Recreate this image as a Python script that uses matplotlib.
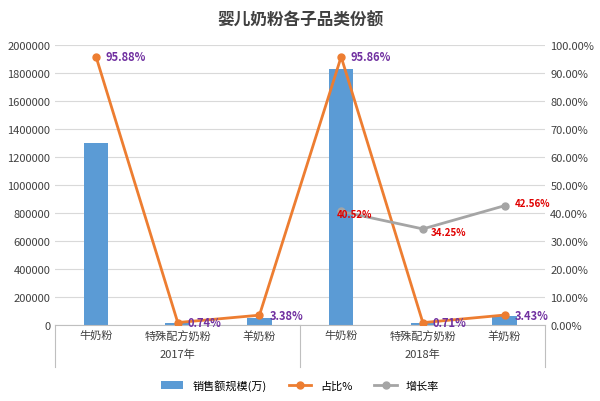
import matplotlib.pyplot as plt
import numpy as np

plt.rcParams['font.family'] = 'Noto Sans CJK SC'

years = ['2017年', '2018年']
products = ['牛奶粉', '特殊配方奶粉', '羊奶粉']
sales = [1300000, 10000, 50000, 1830000, 12000, 65000]
share = [95.88, 0.74, 3.38, 95.86, 0.71, 3.43]
growth = [40.52, 34.25, 42.56]

blue = '#5b9bd5'
orange = '#ed7d31'
grey = '#a5a5a5'

fig = plt.figure(figsize=(6, 4.02), dpi=100)
ax = fig.add_axes([0.092, 0.19, 0.817, 0.695])
x = np.arange(6)
ax.bar(x, sales, width=0.3, color=blue, label='销售额规模(万)', zorder=2)
ax.set_ylim(0, 2000000)
yt = np.arange(0, 2000001, 200000)
ax.set_yticks(yt)
ax.set_yticklabels([str(v) for v in yt])
ax.set_xlim(-0.5, 5.5)
ax.grid(axis='y', color='#d9d9d9', lw=0.8, zorder=0)
ax.tick_params(labelsize=8, length=0, colors='#404040')
ax.set_xticks(x)
ax.set_xticklabels(products * 2, fontsize=8)
for s in ['top', 'left', 'right']:
    ax.spines[s].set_visible(False)
ax.spines['bottom'].set_color('#bfbfbf')

ax2 = ax.twinx()
ax2.plot(x, share, color=orange, lw=2, marker='o', ms=5, label='占比%')
ax2.plot(x[3:], growth, color=grey, lw=2, marker='o', ms=5, label='增长率')
ax2.set_ylim(0, 100)
ax2.set_yticks(np.arange(0, 101, 10))
ax2.set_yticklabels(['%.2f%%' % v for v in np.arange(0, 101, 10)])
ax2.tick_params(labelsize=8, length=0, colors='#404040')
for s in ax2.spines.values():
    s.set_visible(False)

for xi, v in zip(x, share):
    ax2.text(xi + 0.12, v, '%.2f%%' % v, color='#7030a0', fontsize=8,
             fontweight='bold', va='center')
for xi, v, dx, dy in zip(x[3:], growth, [-0.05, 0.1, 0.12], [-1, -1, 1]):
    ax2.text(xi + dx, v + dy, '%.2f%%' % v, color='#e00000', fontsize=7,
             fontweight='bold', va='center')

# year labels and group separators
for i, y in enumerate(years):
    ax.text(1 + 3 * i, -0.105, y, transform=ax.get_xaxis_transform(),
            ha='center', va='center', fontsize=8, color='#404040')
for xs in [-0.5, 2.5, 5.5]:
    ax.plot([xs, xs], [0, -0.15], transform=ax.get_xaxis_transform(),
            color='#bfbfbf', lw=0.8, clip_on=False)

fig.suptitle('婴儿奶粉各子品类份额', y=0.97, fontsize=12, fontweight='bold',
             color='#404040')
h1, l1 = ax.get_legend_handles_labels()
h2, l2 = ax2.get_legend_handles_labels()
fig.legend(h1 + h2, l1 + l2, loc='lower center', ncol=3, frameon=False,
           fontsize=8, bbox_to_anchor=(0.5, 0.0))
fig.savefig('out.png')
